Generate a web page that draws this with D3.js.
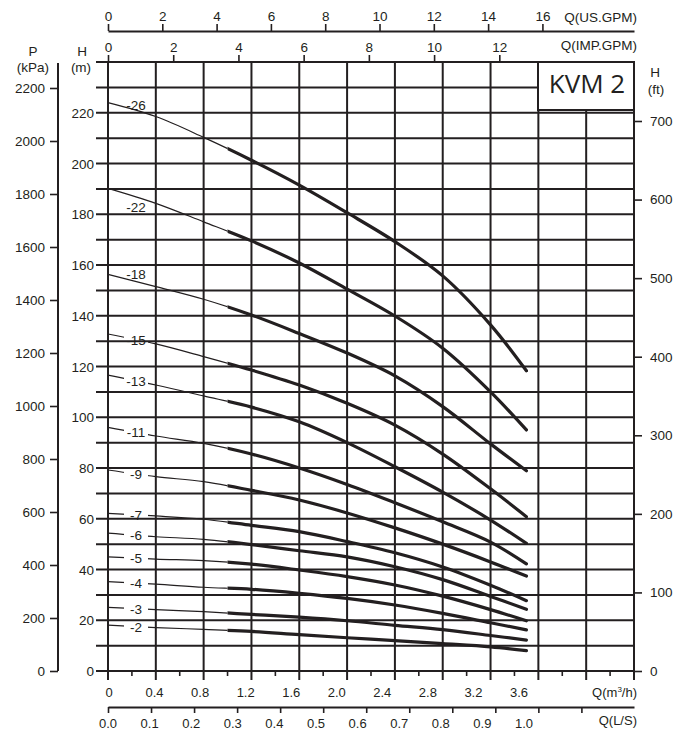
<!DOCTYPE html>
<html>
<head>
<meta charset="utf-8">
<script src="https://cdn.jsdelivr.net/npm/d3@7"></script>
<style>
  body { margin: 0; background: #fff; }
  svg { display: block; }
  text { font-family: "Liberation Sans", Arial, sans-serif; fill: #231f20; }
</style>
</head>
<body>
<svg id="chart" width="684" height="732"></svg>
<script>
// flow sample points (m3/h) where the head was read for every curve
const flowPts = [0, 0.4, 0.8, 1.2, 1.6, 2.0, 2.4, 2.8, 3.2, 3.5];

// head in metres for each stage count
const head26 = [224, 218.5, 210.3, 201.3, 191.5, 180.6, 169.2, 155.7, 136.4, 118.3];
const head22 = [190.2, 184.3, 177, 169.5, 160.8, 150.5, 139.9, 127.2, 110, 95];
const head18 = [156.3, 151.5, 146.5, 140.3, 133, 125.3, 116.3, 104.2, 89.5, 78.9];
const head15 = [132.8, 128.9, 123.9, 118.6, 112.7, 105.5, 96.9, 85.5, 71.8, 60.8];
const head13 = [116.6, 112.7, 108.4, 104, 98.2, 90, 80.5, 70.5, 59.5, 50.3];
const head11 = [96, 92.6, 89.7, 85.5, 80, 73.5, 66.3, 58.8, 50.8, 42.2];
const head9 = [79.2, 76.6, 74.6, 71.2, 67.4, 62.3, 56.4, 50, 43, 37.4];
const head7 = [62.1, 61.1, 59.8, 57.4, 54.9, 51, 46.6, 41, 33.8, 27.7];
const head6 = [54.3, 52.9, 51.9, 49.8, 47.4, 45, 41.1, 36, 29.4, 24.3];
const head5 = [45, 44.1, 43.5, 42.1, 39.8, 37.2, 33.9, 29.5, 24.2, 19.8];
const head4 = [35.2, 34.2, 33, 32.2, 30.6, 28.6, 26, 22.7, 19, 16.2];
const head3 = [25.1, 24.2, 23.4, 22.3, 21.2, 19.8, 18, 16.3, 14, 12.2];
const head2 = [18.1, 17.1, 16.4, 15.6, 14.3, 13.1, 12, 10.8, 9.5, 8.0];

const stageNames = ["-26", "-22", "-18", "-15", "-13", "-11", "-9", "-7", "-6", "-5", "-4", "-3", "-2"];
const stageHeads = [head26, head22, head18, head15, head13, head11, head9, head7, head6, head5, head4, head3, head2];

// tick labels
const usGpmTicks = [0, 2, 4, 6, 8, 10, 12, 14, 16];
const impGpmTicks = [0, 2, 4, 6, 8, 10, 12];
const flowLabels = [0, 0.4, 0.8, 1.2, 1.6, 2.0, 2.4, 2.8, 3.2, 3.6];
const lsTicks = [0, 0.1, 0.2, 0.3, 0.4, 0.5, 0.6, 0.7, 0.8, 0.9, 1.0, 1.1];
const lsLabels = [0, 0.1, 0.2, 0.3, 0.4, 0.5, 0.6, 0.7, 0.8, 0.9, 1.0];
const kpaTicks = [0, 200, 400, 600, 800, 1000, 1200, 1400, 1600, 1800, 2000, 2200];
const headTicks = [0, 20, 40, 60, 80, 100, 120, 140, 160, 180, 200, 220];
const ftTicks = [0, 100, 200, 300, 400, 500, 600, 700];

const ink = "#231f20";
const pL = 108, pR = 634, pT = 62, pB = 671;
const thickFrom = 1.0; // recommended range starts here

const svg = d3.select("#chart");
const defs = svg.append("defs");

// scales
const x = d3.scaleLinear().domain([0, 4.4]).range([pL, pR]);
const y = d3.scaleLinear().domain([0, 240]).range([pB, pT]);
const xUs = d3.scaleLinear().domain([0, 4.4 * 4.403]).range([pL, pR]);
const xImp = d3.scaleLinear().domain([0, 4.4 * 3.666]).range([pL, pR]);
const xLs = d3.scaleLinear().domain([0, 4.4 / 3.6]).range([pL, pR]);
const xFlowLabel = d3.scaleLinear().domain([0, 3.6]).range([109, 519]);
const xLsLabel = d3.scaleLinear().domain([0, 1]).range([108, 524]);
const yKpa = d3.scaleLinear().domain([0, 2200]).range([pB, 88]);
const yFt = d3.scaleLinear().domain([0, 700]).range([pB, 121]);

function styleAxis(g, size) {
    g.attr("font-family", null).attr("font-size", null);
    g.selectAll("line").attr("stroke", ink).attr("stroke-width", 1.6);
    g.selectAll("path.domain").attr("stroke", ink).attr("stroke-width", 2);
    g.selectAll("text").style("font-size", size + "px").attr("fill", ink);
}

// grid
const grid = svg.append("g");
grid.selectAll(".vg")
    .data(d3.range(0, 12).map(i => i * 0.4))
    .enter().append("line")
    .attr("x1", d => x(d)).attr("x2", d => x(d))
    .attr("y1", pT).attr("y2", pB + 9)
    .attr("stroke", ink).attr("stroke-width", 2);
grid.selectAll(".hg")
    .data(d3.range(0, 25).map(i => i * 10))
    .enter().append("line")
    .attr("x1", pL - 12).attr("x2", pR)
    .attr("y1", d => y(d)).attr("y2", d => y(d))
    .attr("stroke", ink).attr("stroke-width", 2);

// minor ticks under the flow axis
grid.selectAll(".mt")
    .data(d3.range(0, 11).map(i => i * 0.4 + 0.2))
    .enter().append("line")
    .attr("x1", d => x(d)).attr("x2", d => x(d))
    .attr("y1", pB).attr("y2", pB + 5)
    .attr("stroke", ink).attr("stroke-width", 1.6);

// H (m) labels on the left
svg.append("g").selectAll("text")
    .data(headTicks)
    .enter().append("text")
    .attr("x", pL - 14).attr("y", d => y(d) + 5)
    .attr("text-anchor", "end")
    .style("font-size", "13.5px")
    .text(d => d);

// P (kPa) axis
const pAxis = svg.append("g")
    .attr("transform", "translate(58,0)")
    .call(d3.axisLeft(yKpa).tickValues(kpaTicks).tickFormat(d3.format("d"))
        .tickSize(8).tickPadding(5).tickSizeOuter(0));
pAxis.select("path.domain").remove();
styleAxis(pAxis, 13.5);
svg.append("line").attr("x1", 58).attr("x2", 58).attr("y1", 63).attr("y2", pB)
    .attr("stroke", ink).attr("stroke-width", 2);

// H (ft) axis on the right
const ftAxis = svg.append("g")
    .attr("transform", `translate(${pR},0)`)
    .call(d3.axisRight(yFt).tickValues(ftTicks).tickSize(8).tickPadding(8).tickSizeOuter(0));
ftAxis.select("path.domain").remove();
styleAxis(ftAxis, 13.5);

// top axes
const usAxis = svg.append("g")
    .attr("transform", "translate(0,31)")
    .call(d3.axisTop(xUs).tickValues(usGpmTicks).tickSize(7).tickPadding(3).tickSizeOuter(0));
styleAxis(usAxis, 13.5);
const impAxis = svg.append("g")
    .attr("transform", `translate(0,${pT})`)
    .call(d3.axisTop(xImp).tickValues(impGpmTicks).tickSize(7).tickPadding(3).tickSizeOuter(0));
impAxis.select("path.domain").remove();
styleAxis(impAxis, 13.5);

// bottom flow labels (m3/h)
svg.append("g").selectAll("text")
    .data(flowLabels)
    .enter().append("text")
    .attr("x", d => xFlowLabel(d)).attr("y", 697)
    .attr("text-anchor", "middle")
    .style("font-size", "13px")
    .text(d => d === 0 ? "0" : d.toFixed(1));

// L/S axis
const lsAxis = svg.append("g")
    .attr("transform", "translate(0,707)")
    .call(d3.axisBottom(xLs).tickValues(lsTicks).tickSize(6).tickFormat("").tickSizeOuter(0));
styleAxis(lsAxis, 13);
svg.append("g").selectAll("text")
    .data(lsLabels)
    .enter().append("text")
    .attr("x", d => xLsLabel(d)).attr("y", 728)
    .attr("text-anchor", "middle")
    .style("font-size", "13px")
    .text(d => d.toFixed(1));

// frame
svg.append("rect")
    .attr("x", pL).attr("y", pT).attr("width", pR - pL).attr("height", pB - pT)
    .attr("fill", "none").attr("stroke", ink).attr("stroke-width", 2);
svg.append("line").attr("x1", pL - 10).attr("x2", pL).attr("y1", pT).attr("y2", pT)
    .attr("stroke", ink).attr("stroke-width", 2);

// curves
const line = d3.line().x(d => x(d[0])).y(d => y(d[1])).curve(d3.curveCatmullRom.alpha(0.5));
const labelX = 136;
const labelQ = x.invert(labelX);
const placeAbove = { "-26": -1, "-18": -3 };
const placeBelow = { "-22": 15 };

defs.append("clipPath").attr("id", "thickClip")
    .append("rect").attr("x", x(thickFrom)).attr("y", 0).attr("width", 700).attr("height", 732);

const curveG = svg.append("g");
stageNames.forEach((name, i) => {
    const pts = flowPts.map((q, j) => [q, stageHeads[i][j]]);
    const inline = !(name in placeAbove) && !(name in placeBelow);
    const clip = defs.append("clipPath").attr("id", "thin" + i);
    if (inline) {
        clip.append("rect").attr("x", pL - 4).attr("y", 0).attr("width", labelX - 12 - (pL - 4)).attr("height", 732);
        clip.append("rect").attr("x", labelX + 12).attr("y", 0).attr("width", x(thickFrom) - labelX - 12).attr("height", 732);
    } else {
        clip.append("rect").attr("x", pL - 4).attr("y", 0).attr("width", x(thickFrom) - pL + 4).attr("height", 732);
    }
    curveG.append("path")
        .attr("d", line(pts))
        .attr("clip-path", `url(#thin${i})`)
        .attr("fill", "none").attr("stroke", ink).attr("stroke-width", 1.2);
    curveG.append("path")
        .attr("d", line(pts))
        .attr("clip-path", "url(#thickClip)")
        .attr("fill", "none").attr("stroke", ink).attr("stroke-width", 3.2)
        .attr("stroke-linecap", "round");

    const hAtLabel = pts[0][1] + (pts[1][1] - pts[0][1]) * (labelQ - pts[0][0]) / (pts[1][0] - pts[0][0]);
    let dy = 5;
    if (name in placeAbove) dy = placeAbove[name];
    if (name in placeBelow) dy = placeBelow[name];
    curveG.append("text")
        .attr("x", labelX).attr("y", y(hAtLabel) + dy)
        .attr("text-anchor", "middle")
        .style("font-size", "13.5px")
        .text(name);
});

// model box
svg.append("rect")
    .attr("x", 538).attr("y", pT).attr("width", pR - 538).attr("height", 48)
    .attr("fill", "#fff").attr("stroke", ink).attr("stroke-width", 2);
svg.append("text")
    .attr("x", 587).attr("y", 93)
    .attr("text-anchor", "middle")
    .style("font-family", "'Open Sans', sans-serif")
    .style("font-size", "26px")
    .text("KVM 2");

// axis titles
const titles = svg.append("g").style("font-size", "13.5px");
titles.append("text").attr("x", 33).attr("y", 56).attr("text-anchor", "middle").text("P");
titles.append("text").attr("x", 33).attr("y", 72).attr("text-anchor", "middle").text("(kPa)");
titles.append("text").attr("x", 82).attr("y", 56).attr("text-anchor", "middle").text("H");
titles.append("text").attr("x", 81).attr("y", 72).attr("text-anchor", "middle").text("(m)");
titles.append("text").attr("x", 655).attr("y", 77).attr("text-anchor", "middle").text("H");
titles.append("text").attr("x", 656).attr("y", 94).attr("text-anchor", "middle").text("(ft)");
titles.append("text").attr("x", 637).attr("y", 22).attr("text-anchor", "end").text("Q(US.GPM)");
titles.append("text").attr("x", 637).attr("y", 50).attr("text-anchor", "end").text("Q(IMP.GPM)");
const qm = titles.append("text").attr("x", 637).attr("y", 697).attr("text-anchor", "end").style("font-size", "13px");
qm.append("tspan").text("Q(m");
qm.append("tspan").attr("dy", -5).style("font-size", "8px").text("3");
qm.append("tspan").attr("dy", 5).text("/h)");
titles.append("text").attr("x", 637).attr("y", 725).attr("text-anchor", "end").style("font-size", "13px").text("Q(L/S)");
</script>
</body>
</html>
